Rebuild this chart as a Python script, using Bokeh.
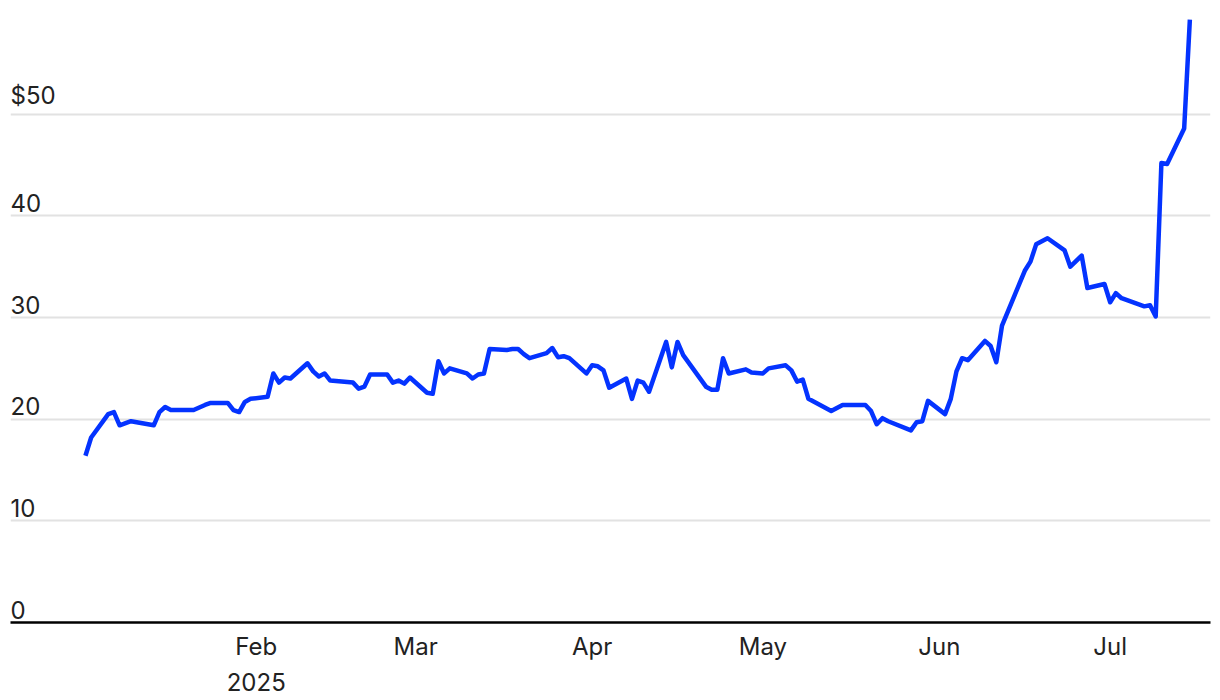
import pandas as pd
from bokeh.plotting import figure
from bokeh.models import ColumnDataSource, Range1d, FixedTicker
from bokeh.core.properties import value
from bokeh.embed import file_html
from bokeh.resources import INLINE

dates = [
    "2025-01-02", "2025-01-03", "2025-01-06", "2025-01-07", "2025-01-08", "2025-01-10",
    "2025-01-14", "2025-01-15", "2025-01-16", "2025-01-17", "2025-01-21", "2025-01-23",
    "2025-01-24", "2025-01-27", "2025-01-28", "2025-01-29", "2025-01-30", "2025-01-31",
    "2025-02-03", "2025-02-04", "2025-02-05", "2025-02-06", "2025-02-07", "2025-02-10",
    "2025-02-11", "2025-02-12", "2025-02-13", "2025-02-14", "2025-02-18", "2025-02-19",
    "2025-02-20", "2025-02-21", "2025-02-24", "2025-02-25", "2025-02-26", "2025-02-27",
    "2025-02-28", "2025-03-03", "2025-03-04", "2025-03-05", "2025-03-06", "2025-03-07",
    "2025-03-10", "2025-03-11", "2025-03-12", "2025-03-13", "2025-03-14", "2025-03-17",
    "2025-03-18", "2025-03-19", "2025-03-20", "2025-03-21", "2025-03-24", "2025-03-25",
    "2025-03-26", "2025-03-27", "2025-03-28", "2025-03-31", "2025-04-01", "2025-04-02",
    "2025-04-03", "2025-04-04", "2025-04-07", "2025-04-08", "2025-04-09", "2025-04-10",
    "2025-04-11", "2025-04-14", "2025-04-15", "2025-04-16", "2025-04-17", "2025-04-21",
    "2025-04-22", "2025-04-23", "2025-04-24", "2025-04-25", "2025-04-28", "2025-04-29",
    "2025-05-01", "2025-05-02", "2025-05-05", "2025-05-06", "2025-05-07", "2025-05-08",
    "2025-05-09", "2025-05-13", "2025-05-15", "2025-05-19", "2025-05-20", "2025-05-21",
    "2025-05-22", "2025-05-23", "2025-05-27", "2025-05-28", "2025-05-29", "2025-05-30",
    "2025-06-02", "2025-06-03", "2025-06-04", "2025-06-05", "2025-06-06", "2025-06-09",
    "2025-06-10", "2025-06-11", "2025-06-12", "2025-06-16", "2025-06-17", "2025-06-18",
    "2025-06-20", "2025-06-23", "2025-06-24", "2025-06-26", "2025-06-27", "2025-06-30",
    "2025-07-01", "2025-07-02", "2025-07-03", "2025-07-07", "2025-07-08", "2025-07-09",
    "2025-07-10", "2025-07-11", "2025-07-14", "2025-07-15",
]
prices = [
    16.4, 18.2, 20.5, 20.7, 19.4, 19.8,
    19.4, 20.7, 21.2, 20.9, 20.9, 21.4,
    21.6, 21.6, 20.9, 20.7, 21.7, 22.0,
    22.2, 24.5, 23.6, 24.1, 24.0, 25.5,
    24.7, 24.2, 24.5, 23.8, 23.6, 23.0,
    23.2, 24.4, 24.4, 23.6, 23.8, 23.5,
    24.1, 22.6, 22.5, 25.7, 24.5, 25.0,
    24.5, 24.0, 24.4, 24.5, 26.9, 26.8,
    26.9, 26.9, 26.4, 26.0, 26.5, 27.0,
    26.1, 26.2, 26.0, 24.5, 25.3, 25.2,
    24.8, 23.1, 24.0, 22.0, 23.8, 23.6,
    22.7, 27.6, 25.1, 27.6, 26.3, 23.2,
    22.9, 22.9, 26.0, 24.5, 24.9, 24.6,
    24.5, 25.0, 25.3, 24.8, 23.7, 23.9,
    22.0, 20.8, 21.4, 21.4, 20.8, 19.5,
    20.1, 19.8, 18.9, 19.7, 19.8, 21.8,
    20.5, 22.0, 24.7, 26.0, 25.8, 27.7,
    27.2, 25.6, 29.2, 34.6, 35.5, 37.2,
    37.8, 36.6, 35.0, 36.1, 32.9, 33.3,
    31.5, 32.4, 31.9, 31.1, 31.2, 30.1,
    45.2, 45.1, 48.6, 59.3,
]

y_ticks = [0, 10, 20, 30, 40, 50]
y_labels = ["0", "10", "20", "30", "40", "$50"]
month_ticks = ["2025-02-01", "2025-03-01", "2025-04-01", "2025-05-01", "2025-06-01", "2025-07-01"]
month_labels = ["Feb\n2025", "Mar", "Apr", "May", "Jun", "Jul"]

FONT = "Inter"
TEXT_COLOR = "#222222"
LINE_COLOR = "#0433FF"

x_start = pd.Timestamp("2024-12-19 20:00")
x_end = pd.Timestamp("2025-07-18 15:00")

p = figure(
    width=1216, height=699,
    x_axis_type="datetime",
    x_range=Range1d(x_start, x_end),
    y_range=Range1d(0, 60.4),
    output_backend="svg", toolbar_location=None,
    min_border_left=10, min_border_right=6, min_border_top=8, min_border_bottom=60,
)
p.outline_line_color = None
p.background_fill_color = "white"
p.border_fill_color = "white"

p.yaxis.visible = False
p.xgrid.visible = False
p.ygrid.ticker = FixedTicker(ticks=[t for t in y_ticks if t > 0])
p.ygrid.grid_line_color = "#e2e2e2"
p.ygrid.grid_line_width = 2

tick_ms = [pd.Timestamp(t).value // 10**6 for t in month_ticks]
xa = p.xaxis[0]
xa.ticker = FixedTicker(ticks=tick_ms)
xa.major_label_overrides = {ms: lab for ms, lab in zip(tick_ms, month_labels)}
xa.major_tick_line_color = None
xa.major_tick_out = 0
xa.major_tick_in = 0
xa.minor_tick_line_color = None
xa.minor_tick_out = 0
xa.axis_line_color = "#000000"
xa.axis_line_width = 2.5
xa.major_label_standoff = 9
xa.major_label_text_font = FONT
xa.major_label_text_font_size = "24px"
xa.major_label_text_color = TEXT_COLOR
xa.major_label_text_line_height = 1.25

src = ColumnDataSource(dict(x=pd.to_datetime(dates), y=prices))
p.line("x", "y", source=src, line_width=4.5, line_color=LINE_COLOR, line_join="round")

lab_src = ColumnDataSource(dict(x=[x_start] * len(y_ticks), y=y_ticks, text=y_labels))
p.text("x", "y", text="text", source=lab_src, text_font=value(FONT), text_font_size="24px",
       text_color=TEXT_COLOR, text_align="left", text_baseline="bottom", y_offset=-4)

open("out.html", "w").write(file_html(p, INLINE))
